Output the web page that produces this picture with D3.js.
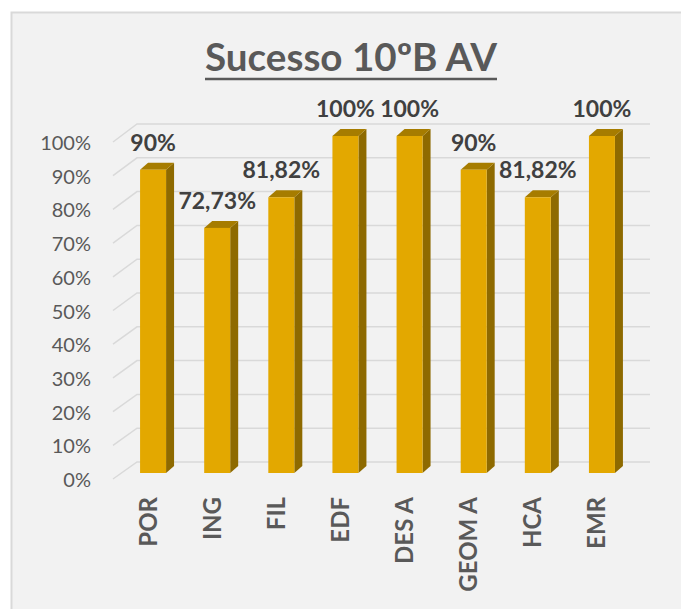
<!DOCTYPE html>
<html>
<head>
<meta charset="utf-8">
<script src="https://cdn.jsdelivr.net/npm/d3@7"></script>
<style>
  body { margin: 0; background: #ffffff; }
  text { font-family: Lato, "Open Sans", sans-serif; }
</style>
</head>
<body>
<svg id="chart" width="681" height="609"></svg>
<script>
// chart data
const categories = ["POR", "ING", "FIL", "EDF", "DES A", "GEOM A", "HCA", "EMR"];
const values = [0.90, 0.7273, 0.8182, 1.00, 1.00, 0.90, 0.8182, 1.00];
const valueLabels = ["90%", "72,73%", "81,82%", "100%", "100%", "90%", "81,82%", "100%"];
const tickValues = [0, 0.1, 0.2, 0.3, 0.4, 0.5, 0.6, 0.7, 0.8, 0.9, 1.0];
const chartTitle = "Sucesso 10ºB AV";

const svg = d3.select("#chart");

// chart area background + border
svg.append("rect")
    .attr("x", 11.5).attr("y", 12.5)
    .attr("width", 700).attr("height", 620)
    .attr("fill", "#f2f2f2")
    .attr("stroke", "#d9d9d9")
    .attr("stroke-width", 2);

// scales: front plane of the bars, back wall, and left wall front edge
const x = d3.scalePoint().domain(categories).range([121, 634]).padding(0.5);
const yFront = d3.scaleLinear().domain([0, 1]).range([473, 136]);
const yBack = d3.scaleLinear().domain([0, 1]).range([462, 124]);
const yWall = d3.scaleLinear().domain([0, 1]).range([479, 142]);

const wallLeft = 113, backLeft = 137, backRight = 650;
const barW = 26, dx = 8, dy = -7;

// gridlines on side wall and back wall
const grid = svg.append("g");
grid.selectAll("path")
    .data(tickValues)
    .join("path")
    .attr("d", d => `M${wallLeft},${yWall(d)}L${backLeft},${yBack(d)}L${backRight},${yBack(d)}`)
    .attr("fill", "none")
    .attr("stroke", "#d9d9d9")
    .attr("stroke-width", 1.5);

// y tick labels
svg.append("g").selectAll("text")
    .data(tickValues)
    .join("text")
    .attr("x", 91)
    .attr("y", d => yWall(d))
    .attr("text-anchor", "end")
    .attr("dominant-baseline", "central")
    .style("font-size", "20px")
    .attr("fill", "#595959")
    .text(d3.format(".0%"));

// 3d bars
const bars = svg.append("g").selectAll("g")
    .data(categories)
    .join("g");

bars.each(function(c, i) {
    const g = d3.select(this);
    const x0 = x(c) - barW / 2, x1 = x0 + barW;
    const yt = yFront(values[i]), yb = yFront(0);
    // side
    g.append("path")
        .attr("d", `M${x1},${yt}L${x1 + dx},${yt + dy}L${x1 + dx},${yb + dy}L${x1},${yb}Z`)
        .attr("fill", "#8e6a00");
    // top
    g.append("path")
        .attr("d", `M${x0},${yt}L${x0 + dx},${yt + dy}L${x1 + dx},${yt + dy}L${x1},${yt}Z`)
        .attr("fill", "#a67c00");
    // front
    g.append("rect")
        .attr("x", x0).attr("y", yt)
        .attr("width", barW).attr("height", yb - yt)
        .attr("fill", "#e3a800");
});

// data labels
svg.append("g").selectAll("text")
    .data(categories)
    .join("text")
    .attr("x", d => x(d))
    .attr("y", (d, i) => yFront(values[i]) + dy - 12)
    .attr("text-anchor", "middle")
    .style("font-size", "23px")
    .style("font-weight", 700)
    .attr("fill", "#404040")
    .text((d, i) => valueLabels[i]);

// category labels (rotated)
svg.append("g").selectAll("text")
    .data(categories)
    .join("text")
    .attr("transform", d => `translate(${x(d) - 6},497) rotate(-90)`)
    .attr("text-anchor", "end")
    .attr("dominant-baseline", "central")
    .style("font-size", "24px")
    .style("font-weight", 700)
    .attr("fill", "#595959")
    .text(d => d);

// title with underline
const title = svg.append("text")
    .attr("x", 351).attr("y", 71)
    .attr("text-anchor", "middle")
    .style("font-size", "36px")
    .style("font-weight", 700)
    .attr("fill", "#595959")
    .text(chartTitle);
const tw = title.node().getComputedTextLength();
title.style("font-size", (36 * 292 / tw) + "px");
svg.append("line")
    .attr("x1", 205).attr("x2", 497)
    .attr("y1", 79).attr("y2", 79)
    .attr("stroke", "#595959")
    .attr("stroke-width", 2.5);
</script>
</body>
</html>
